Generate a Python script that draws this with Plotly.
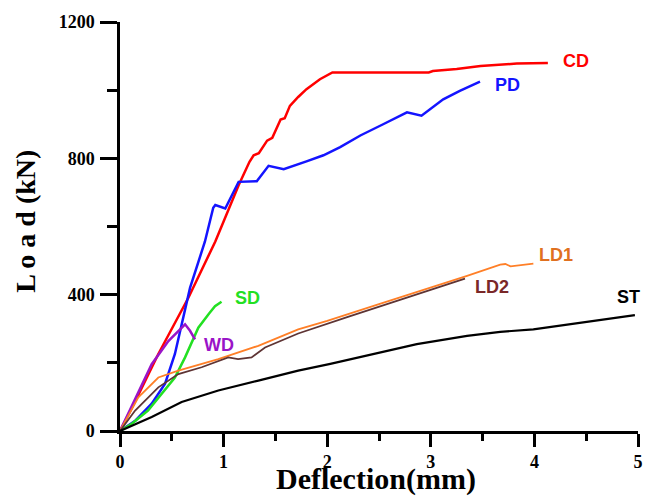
import plotly.graph_objects as go

# ---- data ----
CD_x = [0, 0.15, 0.37, 0.66, 0.92, 1.145, 1.25, 1.29, 1.34, 1.42, 1.47, 1.55, 1.59, 1.64, 1.72, 1.80, 1.93, 2.05, 2.5, 2.98, 3.02, 3.25, 3.48, 3.83, 4.13]
CD_y = [0, 89, 226, 391, 556, 721, 790, 809, 815, 852, 860, 914, 918, 954, 980, 1003, 1032, 1052, 1052, 1052, 1056, 1062, 1071, 1078, 1080]

PD_x = [0, 0.15, 0.306, 0.435, 0.53, 0.676, 0.82, 0.90, 0.92, 1.016, 1.145, 1.32, 1.434, 1.58, 1.80, 1.964, 2.125, 2.32, 2.54, 2.77, 2.91, 3.12, 3.28, 3.475]
PD_y = [0, 31, 80, 139, 226, 420, 556, 655, 663, 653, 731, 733, 778, 768, 791, 809, 833, 867, 900, 935, 925, 973, 998, 1025]

SD_x = [0, 0.113, 0.27, 0.40, 0.53, 0.628, 0.756, 0.86, 0.917, 0.98]
SD_y = [0, 21, 60, 109, 157, 216, 303, 345, 366, 379]

WD_x = [0, 0.15, 0.306, 0.467, 0.58, 0.628, 0.676, 0.724]
WD_y = [0, 98, 196, 264, 300, 313, 294, 269]

LD1_x = [0, 0.177, 0.37, 0.563, 0.949, 1.335, 1.72, 2.0, 2.5, 3.0, 3.35, 3.67, 3.72, 3.77, 3.99]
LD1_y = [0, 99, 157, 177, 211, 250, 298, 323, 372, 420, 455, 488, 490, 483, 491]

LD2_x = [0, 0.146, 0.37, 0.563, 0.788, 1.045, 1.14, 1.27, 1.40, 1.72, 2.2, 2.7, 3.0, 3.33]
LD2_y = [0, 60, 128, 167, 187, 216, 211, 216, 245, 286, 335, 384, 415, 447]

ST_x = [0, 0.306, 0.595, 0.949, 1.335, 1.72, 2.03, 2.38, 2.865, 3.35, 3.67, 3.99, 4.47, 4.97]
ST_y = [0, 41, 85, 119, 148, 177, 197, 221, 255, 279, 291, 298, 318, 340]

labels = ["CD", "PD", "SD", "WD", "LD1", "LD2", "ST"]
label_x = [4.40, 3.745, 1.229, 0.959, 4.208, 3.591, 4.912]
label_y = [1086, 1016, 390, 253, 515, 422, 393]

x_ticks = [0, 1, 2, 3, 4, 5]
y_ticks = [0, 400, 800, 1200]

series = [
    ("CD", CD_x, CD_y, "#ff0000", 2.5),
    ("PD", PD_x, PD_y, "#1414ff", 2.5),
    ("SD", SD_x, SD_y, "#22e022", 2.5),
    ("WD", WD_x, WD_y, "#9a14c8", 2.5),
    ("LD1", LD1_x, LD1_y, "#ff7f27", 1.8),
    ("LD2", LD2_x, LD2_y, "#5e3434", 1.8),
    ("ST", ST_x, ST_y, "#000000", 2.2),
]
label_colors = ["#ff0000", "#1414ff", "#22e022", "#9a14c8", "#e07020", "#7a2828", "#000000"]

fig = go.Figure()
for name, xs, ys, col, w in series:
    fig.add_trace(go.Scatter(x=xs, y=ys, mode="lines", name=name,
                             line=dict(color=col, width=w), showlegend=False))

for t, lx, ly, c in zip(labels, label_x, label_y, label_colors):
    fig.add_annotation(x=lx, y=ly, text=t, showarrow=False,
                       font=dict(family="Liberation Sans", size=18, color=c, weight="bold"),
                       xanchor="center", yanchor="middle")

fig.add_annotation(xref="paper", yref="paper", x=0.495, y=-0.118, text="Deflection(mm)",
                   showarrow=False, xanchor="center", yanchor="middle",
                   font=dict(family="Liberation Serif", size=30, color="black", weight="bold"))
fig.add_annotation(xref="paper", yref="paper", x=-0.183, y=0.512, text="L o a d (kN)",
                   showarrow=False, xanchor="center", yanchor="middle", textangle=-90,
                   font=dict(family="Liberation Serif", size=28, color="black", weight="bold"))

tickfont = dict(family="Liberation Serif", size=18, color="black", weight="bold")
fig.update_xaxes(range=[0, 5], tickvals=x_ticks, ticktext=[str(v) for v in x_ticks],
                 showgrid=False, zeroline=False, showline=True, linecolor="black", linewidth=2.5,
                 ticks="outside", ticklen=13, tickwidth=2.5, tickcolor="black",
                 tickfont=tickfont, ticklabelstandoff=0,
                 minor=dict(dtick=0.5, tick0=0, ticks="outside", ticklen=7, tickwidth=2.5, tickcolor="black"))
fig.update_yaxes(range=[0, 1200], tickvals=y_ticks, ticktext=[str(v) for v in y_ticks],
                 showgrid=False, zeroline=False, showline=True, linecolor="black", linewidth=2.5,
                 ticks="outside", ticklen=17, tickwidth=2.5, tickcolor="black",
                 tickfont=tickfont, ticklabelstandoff=2,
                 minor=dict(dtick=200, tick0=0, ticks="outside", ticklen=10, tickwidth=2.5, tickcolor="black"))

fig.update_layout(width=656, height=497, plot_bgcolor="white", paper_bgcolor="white",
                  margin=dict(l=120, r=18, t=19, b=66))
fig.update_traces(cliponaxis=False)

fig.write_html("out.html", config={"displayModeBar": False},
               post_script="document.body.style.margin='0px';document.body.style.overflow='hidden';")
